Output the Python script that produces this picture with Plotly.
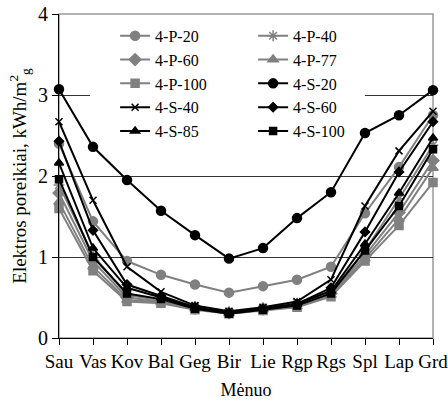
import plotly.graph_objects as go

months = ["Sau", "Vas", "Kov", "Bal", "Geg", "Bir", "Lie", "Rgp", "Rgs", "Spl", "Lap", "Grd"]

p20 = [2.40, 1.44, 0.95, 0.78, 0.66, 0.56, 0.64, 0.72, 0.88, 1.54, 2.11, 2.75]
p40 = [1.89, 1.02, 0.53, 0.47, 0.39, 0.32, 0.37, 0.43, 0.58, 1.08, 1.72, 2.38]
p60 = [1.79, 0.95, 0.50, 0.45, 0.37, 0.31, 0.36, 0.41, 0.55, 1.02, 1.55, 2.19]
p77 = [1.68, 0.88, 0.47, 0.44, 0.36, 0.30, 0.35, 0.39, 0.53, 0.98, 1.47, 2.10]
p100 = [1.60, 0.83, 0.45, 0.43, 0.35, 0.30, 0.34, 0.38, 0.51, 0.95, 1.39, 1.92]
s20 = [3.07, 2.36, 1.95, 1.57, 1.27, 0.98, 1.11, 1.48, 1.80, 2.53, 2.75, 3.06]
s40 = [2.67, 1.70, 0.88, 0.57, 0.40, 0.33, 0.38, 0.45, 0.72, 1.63, 2.31, 2.80]
s60 = [2.43, 1.33, 0.66, 0.52, 0.38, 0.31, 0.36, 0.42, 0.62, 1.31, 2.05, 2.67]
s85 = [2.16, 1.11, 0.62, 0.50, 0.37, 0.31, 0.36, 0.42, 0.58, 1.16, 1.79, 2.47]
s100 = [1.96, 1.00, 0.55, 0.48, 0.36, 0.30, 0.35, 0.40, 0.55, 1.08, 1.63, 2.33]

GRAY = "#808080"
BLACK = "#000000"

series = [
    ("4-P-20", p20, GRAY, "circle", 9),
    ("4-P-40", p40, GRAY, "asterisk-open", 9),
    ("4-P-60", p60, GRAY, "diamond", 9),
    ("4-P-77", p77, GRAY, "triangle-up", 9),
    ("4-P-100", p100, GRAY, "square", 8),
    ("4-S-20", s20, BLACK, "circle", 9),
    ("4-S-40", s40, BLACK, "x-thin-open", 7),
    ("4-S-60", s60, BLACK, "diamond", 7),
    ("4-S-85", s85, BLACK, "triangle-up", 8),
    ("4-S-100", s100, BLACK, "square", 7),
]

FONT = "Liberation Serif, Times New Roman, serif"

fig = go.Figure()
for name, vals, col, sym, sz in series:
    fig.add_trace(go.Scatter(
        x=months, y=vals, name=name, mode="lines+markers",
        line=dict(color=col, width=2),
        marker=dict(symbol=sym, size=sz, color=col, line=dict(color=col, width=1.5)),
        cliponaxis=False,
    ))

# plot-area frame (gray top/right)
fig.add_shape(type="rect", xref="paper", yref="paper", x0=0, y0=0, x1=1, y1=1,
              line=dict(color="#999999", width=1.5), layer="below")
# legend background masks the y=3 gridline behind it
fig.add_shape(type="line", xref="paper", yref="y", x0=0.083, x1=0.818, y0=3, y1=3,
              line=dict(color="white", width=3), layer="above")

fig.update_layout(
    width=448, height=406,
    margin=dict(l=59, r=15, t=14, b=68),
    paper_bgcolor="white", plot_bgcolor="white",
    font=dict(family=FONT, size=18, color="black"),
    showlegend=True,
    legend=dict(
        orientation="h", x=0.15, y=0.985, xanchor="left", yanchor="top",
        bgcolor="rgba(0,0,0,0)", font=dict(family=FONT, size=16),
        entrywidth=93, itemwidth=30, tracegroupgap=0,
    ),
    xaxis=dict(
        type="category", range=[0, 11], showgrid=False,
        showline=True, linecolor="black", linewidth=1,
        ticks="outside", ticklen=6, tickcolor="black",
        tickfont=dict(family=FONT, size=19),
        title=dict(text="Mėnuo", font=dict(family=FONT, size=18), standoff=12),
        automargin=False,
    ),
    yaxis=dict(
        range=[0, 4], dtick=1, showgrid=True, gridcolor="#333333", gridwidth=1,
        showline=True, linecolor="black", linewidth=1, zeroline=False,
        ticks="outside", ticklen=6, tickcolor="black",
        tickfont=dict(family=FONT, size=20),
        title=dict(text="Elektros poreikiai, kWh/m<sup>2</sup><sub>g</sub>",
                   font=dict(family=FONT, size=19), standoff=6),
        automargin=False,
    ),
)

fig.write_html("out.html", config={"displayModeBar": False},
               post_script="document.body.style.margin='0';")
